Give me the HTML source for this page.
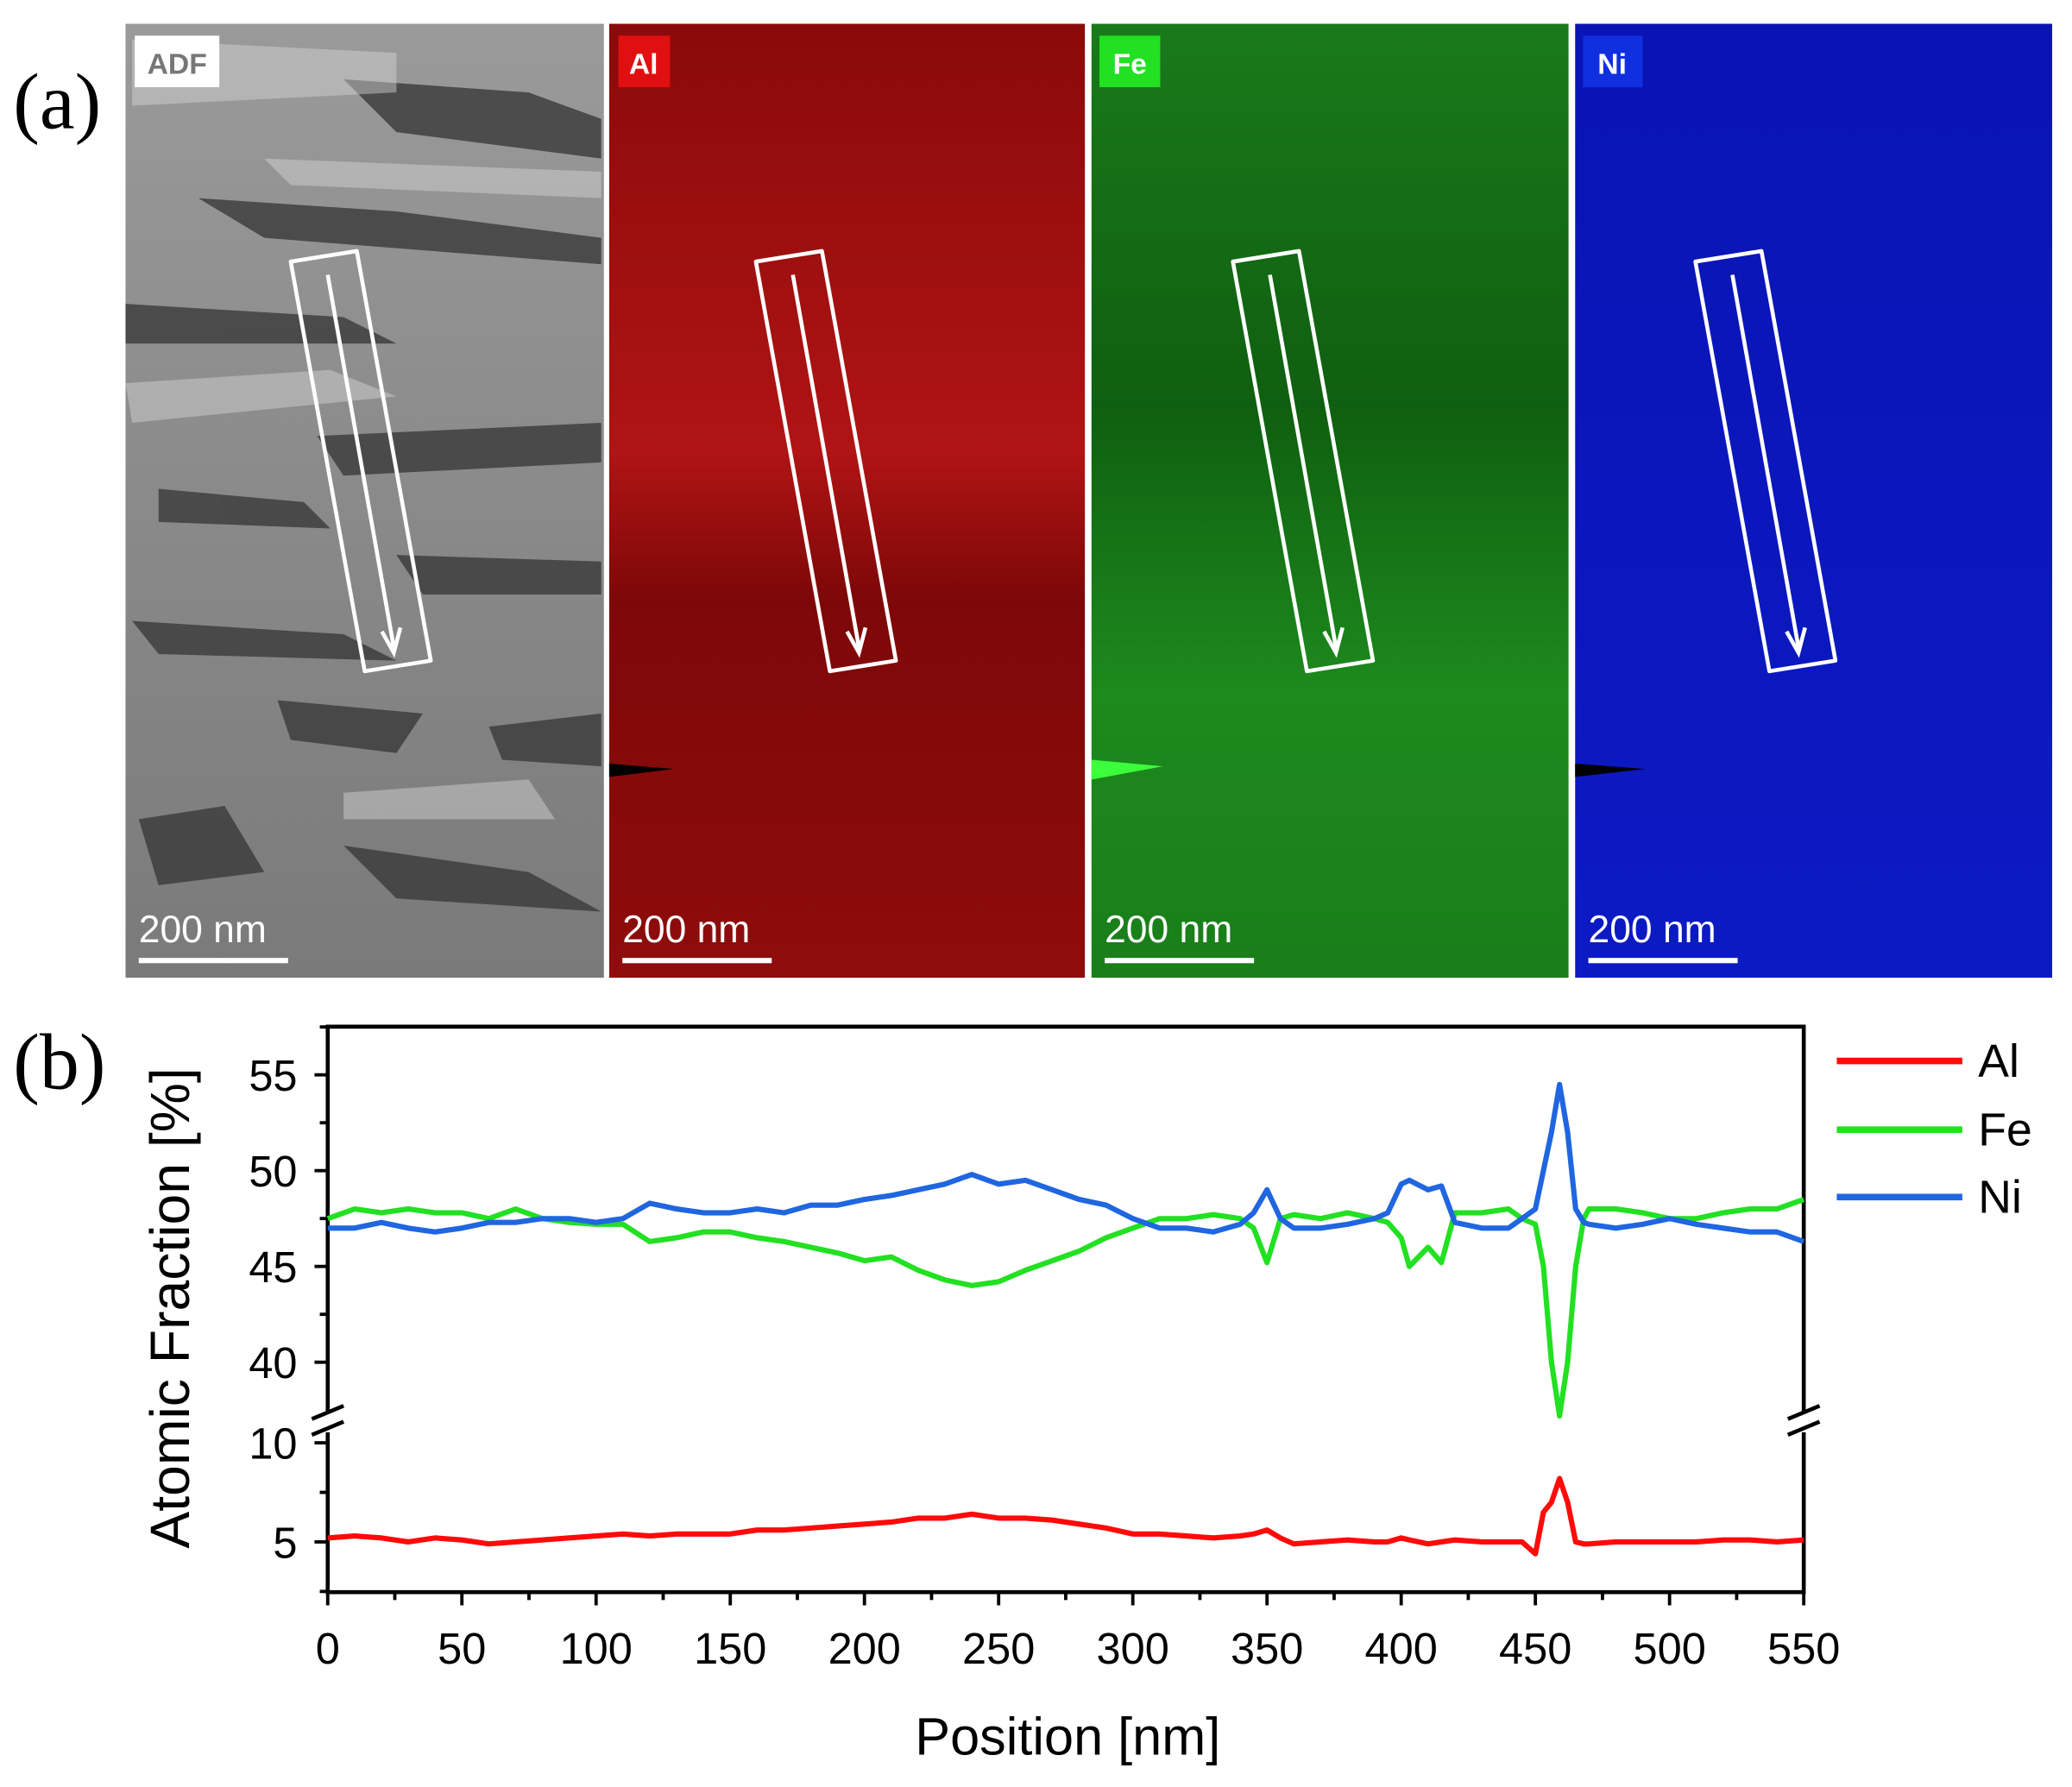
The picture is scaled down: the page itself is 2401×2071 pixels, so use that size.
<!DOCTYPE html>
<html><head><meta charset="utf-8">
<style>
html,body{margin:0;padding:0;background:#fff;}
svg{display:block;}
text{font-family:"Liberation Sans",sans-serif;}
</style></head>
<body>
<svg id="fig" width="2401" height="2071" viewBox="0 0 1568 1352.5" preserveAspectRatio="none" xmlns="http://www.w3.org/2000/svg">
<defs>
<linearGradient id="gAl" x1="0" y1="0" x2="0" y2="1"><stop offset="0" stop-color="#8a0a0a"/><stop offset="0.45" stop-color="#b01414"/><stop offset="0.6" stop-color="#7e0808"/><stop offset="1" stop-color="#8e0c0c"/></linearGradient>
<linearGradient id="gFe" x1="0" y1="0" x2="0" y2="1"><stop offset="0" stop-color="#1a7a1a"/><stop offset="0.4" stop-color="#0f5f10"/><stop offset="0.7" stop-color="#1d8a1d"/><stop offset="1" stop-color="#1a7e1a"/></linearGradient>
<linearGradient id="gNi" x1="0" y1="0" x2="0" y2="1"><stop offset="0" stop-color="#0a14b4"/><stop offset="1" stop-color="#0c1ac4"/></linearGradient>
<linearGradient id="gAdf" x1="0" y1="0" x2="0" y2="1"><stop offset="0" stop-color="#9a9a9a"/><stop offset="0.5" stop-color="#8a8a8a"/><stop offset="1" stop-color="#7a7a7a"/></linearGradient>
</defs>
<text x="10" y="97" font-size="60" style="font-family:'Liberation Serif',serif">(a)</text>
<text x="10" y="824" font-size="60" style="font-family:'Liberation Serif',serif">(b)</text>

<g>
<rect x="95" y="18" width="362" height="722" fill="url(#gAdf)"/>
<g fill="#3a3a3a" opacity="0.8">
<path d="M260 60 L400 70 L455 90 L455 120 L300 100 Z"/>
<path d="M150 150 L300 160 L455 180 L455 200 L200 180 Z"/>
<path d="M95 230 L260 240 L300 260 L95 260 Z"/>
<path d="M240 330 L455 320 L455 350 L260 360 Z"/>
<path d="M120 370 L230 380 L250 400 L120 395 Z"/>
<path d="M300 420 L455 425 L455 450 L320 450 Z"/>
<path d="M100 470 L260 480 L300 500 L120 495 Z"/>
<path d="M210 530 L320 540 L300 570 L220 560 Z"/>
<path d="M370 550 L455 540 L455 580 L380 575 Z"/>
<path d="M105 620 L170 610 L200 660 L120 670 Z"/>
<path d="M260 640 L400 660 L455 690 L300 680 Z"/>
</g>
<g fill="#d8d8d8" opacity="0.45">
<path d="M100 30 L300 40 L300 70 L100 80 Z"/>
<path d="M200 120 L455 130 L455 150 L220 140 Z"/>
<path d="M95 290 L250 280 L300 300 L100 320 Z"/>
<path d="M260 600 L400 590 L420 620 L260 620 Z"/>
</g>
</g>
<rect x="461" y="18" width="360" height="722" fill="url(#gAl)"/>
<rect x="826" y="18" width="361" height="722" fill="url(#gFe)"/>
<rect x="1192" y="18" width="361" height="722" fill="url(#gNi)"/>
<path d="M826 575 L880 580 L826 590Z" fill="#3cff3c"/>
<path d="M1192 578 L1245 582 L1192 588Z" fill="#000"/>
<path d="M461 578 L510 582 L461 588Z" fill="#000"/>

<g id="boxes"></g>

<g><rect x="102" y="27" width="64" height="39" fill="#fff"/><text x="134" y="56" font-size="22" fill="#777" text-anchor="middle" font-weight="bold">ADF</text></g>
<g><rect x="468" y="27" width="39" height="39" fill="#e01010"/><text x="487" y="56" font-size="22" fill="#fff" text-anchor="middle" font-weight="bold">Al</text></g>
<g><rect x="832" y="27" width="46" height="39" fill="#22e022"/><text x="855" y="56" font-size="22" fill="#fff" text-anchor="middle" font-weight="bold">Fe</text></g>
<g><rect x="1198" y="27" width="45" height="39" fill="#1030e0"/><text x="1220" y="56" font-size="22" fill="#fff" text-anchor="middle" font-weight="bold">Ni</text></g>
<g id="scalebars"></g>

<g id="chart"></g>
</svg>
<script>
const NS='http://www.w3.org/2000/svg';
const svg=document.getElementById('fig');
function mk(tag,attrs,parent){const e=document.createElementNS(NS,tag);for(const k in attrs)e.setAttribute(k,attrs[k]);(parent||svg).appendChild(e);return e;}
const offs=[0,352,713,1063];
const bx=document.getElementById('boxes');
offs.forEach((o,i)=>{
 const r=mk('path',{d:`M${220+o} 198 L${270+o} 190 L${326+o} 500 L${276+o} 508 Z`,fill:'none',stroke:'#fff','stroke-width':3,'stroke-linejoin':'round'},bx);
 
 
 const a=mk('path',{d:`M${248+o} 208 L${298+o} 490 M${289+o} 478 L${298+o} 494 L${303+o} 475`,fill:'none',stroke:'#fff','stroke-width':3},bx);
 
 
});
const sb=document.getElementById('scalebars');
[95,461,826,1192].forEach(x0=>{
 const t=mk('text',{x:x0+10,y:713,'font-size':29,fill:'#fff'},sb);t.textContent='200 nm';
 
 
 const l=mk('rect',{x:x0+10,y:725,width:113,height:4,fill:'#fff'},sb);
 
 
});

const pos=[0,10,20,30,40,50,60,70,80,90,100,110,120,130,140,150,160,170,180,190,200,210,220,230,240,250,260,270,280,290,300,310,320,330,340,345,350,355,360,370,380,390,395,400,403,410,415,420,430,440,445,450,453,456,459,462,465,468,470,480,490,500,510,520,530,540,550];
const fe=[47.5,48,47.8,48,47.8,47.8,47.5,48,47.5,47.3,47.2,47.2,46.3,46.5,46.8,46.8,46.5,46.3,46,45.7,45.3,45.5,44.8,44.3,44,44.2,44.8,45.3,45.8,46.5,47,47.5,47.5,47.7,47.5,47,45.2,47.5,47.7,47.5,47.8,47.5,47.3,46.5,45,46,45.2,47.8,47.8,48,47.5,47.2,45,40,37.2,40,45,47.5,48,48,47.8,47.5,47.5,47.8,48,48,48.5];
const ni=[47,47,47.3,47,46.8,47,47.3,47.3,47.5,47.5,47.3,47.5,48.3,48,47.8,47.8,48,47.8,48.2,48.2,48.5,48.7,49,49.3,49.8,49.3,49.5,49,48.5,48.2,47.5,47,47,46.8,47.2,47.8,49,47.5,47,47,47.2,47.5,47.8,49.3,49.5,49,49.2,47.3,47,47,47.5,48,50,52,54.5,52,48,47.3,47.2,47,47.2,47.5,47.2,47,46.8,46.8,46.3];
const al=[5.2,5.3,5.2,5,5.2,5.1,4.9,5,5.1,5.2,5.3,5.4,5.3,5.4,5.4,5.4,5.6,5.6,5.7,5.8,5.9,6,6.2,6.2,6.4,6.2,6.2,6.1,5.9,5.7,5.4,5.4,5.3,5.2,5.3,5.4,5.6,5.2,4.9,5,5.1,5,5,5.2,5.1,4.9,5,5.1,5,5,5,4.4,6.5,7,8.2,7,5,4.9,4.9,5,5,5,5,5.1,5.1,5,5.1];
const xTicks=[0,50,100,150,200,250,300,350,400,450,500,550];
const yUpTicks=[40,45,50,55];
const yLoTicks=[5,10];

const L=248,R=1365,T=777,B=1205;
const X=v=>L+(v/550)*(R-L);
const YU=v=>886-(v-50)*14.5;
const YL=v=>1167-(v-5)*15;
const ch=document.getElementById('chart');
const ax={stroke:'#000','stroke-width':3,fill:'none'};
let e=mk('path',Object.assign({d:`M${L} 1068 L${L} ${T} L${R} ${T} L${R} 1068 M${L} 1084 L${L} ${B} L${R} ${B} L${R} 1084`},ax),ch);


[L,R].forEach(x=>{
 const b=mk('path',{d:`M${x-12} 1074 L${x+12} 1064 M${x-12} 1086 L${x+12} 1076`,stroke:'#000','stroke-width':3,fill:'none'},ch);
 
 
});
for(let v=0;v<=550;v+=25){
 const maj=v%50===0;
 const t=mk('line',{x1:X(v),x2:X(v),y1:B,y2:B+(maj?10:6),stroke:'#000','stroke-width':2.5},ch);
 
 
}
xTicks.forEach(v=>{
 const t=mk('text',{x:X(v),y:1259,'font-size':33,'text-anchor':'middle'},ch);t.textContent=v;
 
 
});
for(let v=37.5;v<=57.5;v+=2.5){const y=YU(v);if(y<T||y>1066)continue;
 const t=mk('line',{x1:L,x2:L-(v%5===0?10:6),y1:y,y2:y,stroke:'#000','stroke-width':2.5},ch);
 
 }
for(let v=2.5;v<=10;v+=2.5){const y=YL(v);
 const t=mk('line',{x1:L,x2:L-(v%5===0?10:6),y1:y,y2:y,stroke:'#000','stroke-width':2.5},ch);
 
 }
yUpTicks.forEach(v=>{const t=mk('text',{x:225,y:YU(v)+12,'font-size':33,'text-anchor':'end'},ch);t.textContent=v;
 
 });
yLoTicks.forEach(v=>{const t=mk('text',{x:225,y:YL(v)+12,'font-size':33,'text-anchor':'end'},ch);t.textContent=v;
 
 });
e=mk('text',{x:808,y:1328,'font-size':40,'text-anchor':'middle'},ch);e.textContent='Position [nm]';


e=mk('text',{x:0,y:0,'font-size':42,'text-anchor':'middle',transform:'translate(143 990) rotate(-90)'},ch);e.textContent='Atomic Fraction [%]';


function series(vals,f,col,name){
 const d=vals.map((v,i)=>(i?'L':'M')+X(pos[i]).toFixed(1)+' '+f(v).toFixed(1)).join(' ');
 const p=mk('path',{d:d,fill:'none',stroke:col,'stroke-width':4,'stroke-linejoin':'round'},ch);
 
 
}
series(fe,YU,'#22e022','fe-line');
series(ni,YU,'#1f66e0','ni-line');
series(al,YL,'#ff0a0a','al-line');
[['Al','#ff0a0a',803],['Fe','#22e022',855],['Ni','#1f66e0',906]].forEach(([n,c,y])=>{
 const g=mk('g',{},ch);
 
 
 mk('line',{x1:1390,x2:1485,y1:y,y2:y,stroke:c,'stroke-width':5},g);
 const t=mk('text',{x:1497,y:y+12,'font-size':35},g);t.textContent=n;
});
</script>
</body></html>
